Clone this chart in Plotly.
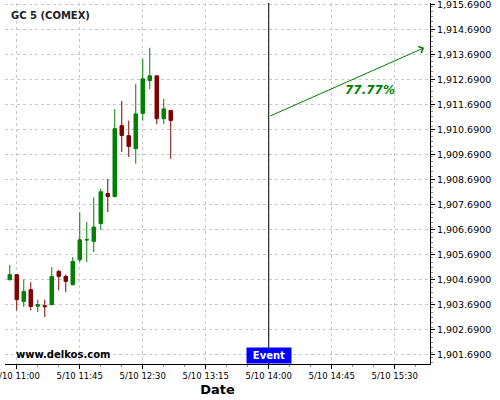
import plotly.graph_objects as go

# 5-minute candles, GC 5 (COMEX), 10 May
times = [
    "2023-05-10 10:55", "2023-05-10 11:00", "2023-05-10 11:05", "2023-05-10 11:10",
    "2023-05-10 11:15", "2023-05-10 11:20", "2023-05-10 11:25", "2023-05-10 11:30",
    "2023-05-10 11:35", "2023-05-10 11:40", "2023-05-10 11:45", "2023-05-10 11:50",
    "2023-05-10 11:55", "2023-05-10 12:00", "2023-05-10 12:05", "2023-05-10 12:10",
    "2023-05-10 12:15", "2023-05-10 12:20", "2023-05-10 12:25", "2023-05-10 12:30",
    "2023-05-10 12:35", "2023-05-10 12:40", "2023-05-10 12:45", "2023-05-10 12:50",
]
opens = [1904.70, 1904.90, 1903.83, 1904.30, 1903.64, 1903.66, 1903.70, 1905.03,
         1904.83, 1904.50, 1905.49, 1906.28, 1906.23, 1906.94, 1908.14, 1908.02,
         1910.85, 1910.45, 1909.93, 1911.34, 1912.65, 1912.84, 1911.13, 1911.46]
highs = [1905.29, 1904.90, 1904.70, 1904.60, 1903.90, 1903.90, 1905.20, 1905.09,
         1904.90, 1905.60, 1907.40, 1907.00, 1907.98, 1908.33, 1908.72, 1911.51,
         1911.84, 1911.05, 1912.52, 1913.52, 1913.96, 1912.84, 1911.92, 1911.46]
lows = [1904.66, 1903.47, 1903.61, 1903.47, 1903.41, 1903.21, 1903.68, 1904.27,
        1904.20, 1904.47, 1905.40, 1905.40, 1905.80, 1906.69, 1907.40, 1907.98,
        1909.80, 1909.60, 1909.33, 1911.05, 1912.31, 1910.91, 1910.91, 1909.53]
closes = [1904.90, 1903.90, 1904.23, 1903.63, 1903.70, 1903.62, 1904.83, 1904.83,
          1904.63, 1905.43, 1906.29, 1906.30, 1906.80, 1908.21, 1908.02, 1910.73,
          1910.46, 1910.02, 1911.32, 1912.72, 1912.84, 1911.13, 1911.52, 1911.06]

event_time = "2023-05-10 14:00"
arrow_start = ("2023-05-10 14:00", 1911.21)
arrow_end = ("2023-05-10 15:51", 1913.96)
forecast_label = "77.77%"
label_pos = ("2023-05-10 15:12", 1912.28)

GREEN = "#008000"
RED = "#800000"
GRID = "#c8c8c8"

fig = go.Figure()
fig.add_trace(
    go.Candlestick(
        x=times, open=opens, high=highs, low=lows, close=closes,
        increasing=dict(line=dict(color=GREEN, width=1), fillcolor=GREEN),
        decreasing=dict(line=dict(color=RED, width=1), fillcolor=RED),
        whiskerwidth=0,
        hoverinfo="skip",
    )
)

# event marker
fig.add_shape(type="line", x0=event_time, x1=event_time, xref="x",
              y0=0, y1=1, yref="paper", line=dict(color="black", width=1))
fig.add_annotation(x=event_time, xref="x", y=0, yref="paper", yanchor="bottom",
                   text="<b>Event</b>", showarrow=False, bgcolor="#0000ff",
                   font=dict(color="white", size=10, family="DejaVu Sans"),
                   borderpad=1, width=42, height=13)

# forecast arrow
fig.add_annotation(x=arrow_end[0], y=arrow_end[1], ax=arrow_start[0], ay=arrow_start[1],
                   xref="x", yref="y", axref="x", ayref="y", text="",
                   showarrow=True, arrowhead=4, arrowsize=1.4, arrowwidth=1,
                   arrowcolor=GREEN)
fig.add_annotation(x=label_pos[0], y=label_pos[1], text="<b><i>" + forecast_label + "</i></b>",
                   showarrow=False, font=dict(color=GREEN, size=12, family="DejaVu Sans"))

fig.add_annotation(x=0.02, xref="paper", xanchor="left", y=0.027, yref="paper",
                   yanchor="middle", text="<b>www.delkos.com</b>", showarrow=False,
                   font=dict(color="black", size=10, family="DejaVu Sans"))
fig.add_annotation(x=0.01, xref="paper", xanchor="left", y=0.985, yref="paper",
                   yanchor="top", text="<b>GC 5 (COMEX)</b>", showarrow=False,
                   font=dict(color="#222222", size=10, family="DejaVu Sans"))

fig.update_layout(
    width=500, height=400,
    margin=dict(l=5, r=70, t=3, b=36, autoexpand=False),
    plot_bgcolor="white", paper_bgcolor="white",
    showlegend=False,
    font=dict(family="DejaVu Sans", size=11, color="black"),
    xaxis=dict(
        type="date",
        automargin=False,
        range=["2023-05-10 10:51:36", "2023-05-10 15:55:12"],
        rangeslider=dict(visible=False),
        tick0="2023-05-10 11:00", dtick=45 * 60 * 1000,
        tickformat="%-m/%d %H:%M",
        tickfont=dict(size=8.5),
        ticks="outside", ticklen=4, tickcolor="black",
        ticklabeloverflow="allow",
        showline=True, linecolor="black", linewidth=1,
        showgrid=True, gridcolor=GRID, griddash="3px,3px", gridwidth=1,
        minor=dict(dtick=15 * 60 * 1000, ticks="outside", ticklen=2, tickcolor="#888888"),
        title=dict(text="<b>Date</b>", font=dict(size=13), standoff=4),
        zeroline=False,
    ),
    yaxis=dict(
        side="right",
        automargin=False,
        range=[1901.33, 1915.75],
        tick0=1901.69, dtick=1,
        tickformat=",.4f",
        tickfont=dict(size=9.5),
        ticks="outside", ticklen=4, tickcolor="black",
        ticklabeloverflow="allow",
        showline=True, linecolor="black", linewidth=1,
        showgrid=True, gridcolor=GRID, griddash="3px,3px", gridwidth=1,
        minor=dict(dtick=0.2, ticks="outside", ticklen=2, tickcolor="#888888"),
        zeroline=False,
    ),
)

fig.write_html(
    "out.html",
    config={"displayModeBar": False},
    post_script="document.body.style.margin='0';document.body.style.overflow='hidden';",
)
